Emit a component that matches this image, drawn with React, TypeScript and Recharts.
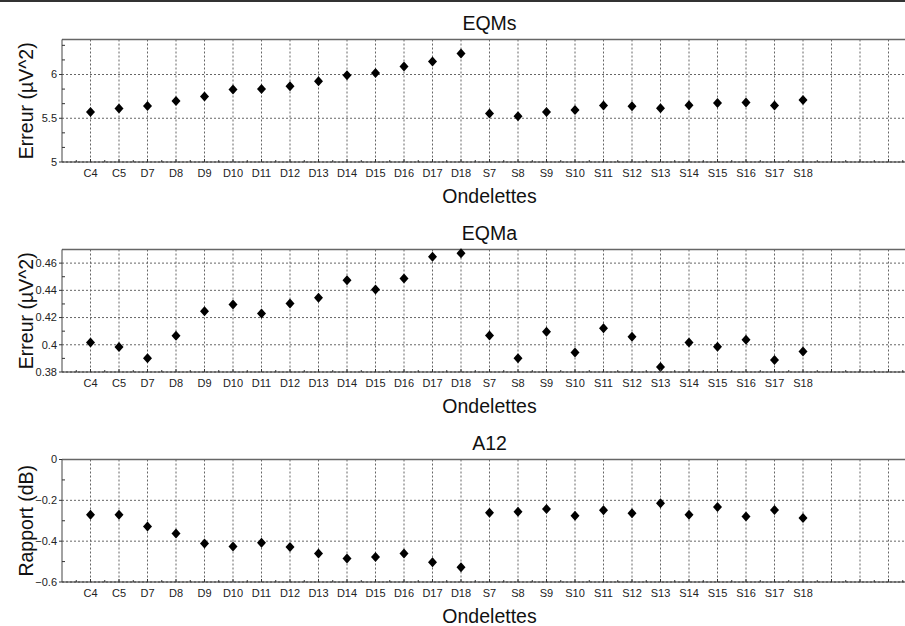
import React from "react";
import { ScatterChart, Scatter, XAxis, YAxis, CartesianGrid, ReferenceLine } from "recharts";

const categories = [
  "C4", "C5", "D7", "D8", "D9", "D10", "D11", "D12", "D13", "D14", "D15", "D16", "D17", "D18",
  "S7", "S8", "S9", "S10", "S11", "S12", "S13", "S14", "S15", "S16", "S17", "S18",
];

const eqms = [
  5.572, 5.611, 5.641, 5.698, 5.748, 5.828, 5.835, 5.866, 5.923, 5.992, 6.018, 6.091, 6.149, 6.24,
  5.554, 5.523, 5.572, 5.595, 5.645, 5.637, 5.614, 5.649, 5.675, 5.68, 5.645, 5.709,
];

const eqma = [
  0.4017, 0.3983, 0.3901, 0.4067, 0.4247, 0.4296, 0.423, 0.4304, 0.4346, 0.4474, 0.4407, 0.4487, 0.4647, 0.4672,
  0.4069, 0.3901, 0.4096, 0.3943, 0.4121, 0.4059, 0.3837, 0.4017, 0.3985, 0.4037, 0.3889, 0.395,
];

const a12 = [
  -0.271, -0.271, -0.328, -0.363, -0.412, -0.426, -0.408, -0.428, -0.461, -0.485, -0.477, -0.461, -0.503, -0.528,
  -0.261, -0.256, -0.242, -0.276, -0.248, -0.263, -0.214, -0.27, -0.233, -0.279, -0.247, -0.286,
];

// tick values
const xMajor = Array.from({ length: 30 }, (_, i) => i + 1);
const xTicks = Array.from({ length: 60 }, (_, i) => (i + 1) / 2);

const eqmsMajor = [5, 5.5, 6];
const eqmsMinor = [5.1667, 5.3333, 5.6667, 5.8333, 6.1667, 6.3333];
const eqmaMajor = [0.38, 0.4, 0.42, 0.44, 0.46];
const eqmaMinor = [0.39, 0.41, 0.43, 0.45];
const a12Major = [-0.6, -0.4, -0.2, 0];
const a12Minor = [-0.5, -0.3, -0.1];

const FONT = "'Liberation Sans', Arial, Helvetica, sans-serif";
const BIG = 19.5;

const toPoints = (vals: number[]) => vals.map((y, i) => ({ x: i + 1, y }));

const Diamond = (props: any) => {
  const { cx, cy } = props;
  if (cx == null || cy == null) return null;
  return (
    <polygon
      points={`${cx},${cy - 5} ${cx + 4.5},${cy} ${cx},${cy + 5} ${cx - 4.5},${cy}`}
      fill="#000"
    />
  );
};

const fmtNum = (v: number) => (v < 0 ? "\u2212" + String(-v) : String(v));

const XTick = (props: any) => {
  const { x, y, payload } = props;
  const v = payload.value;
  const major = Number.isInteger(v);
  const label = major ? categories[v - 1] ?? "" : "";
  return (
    <g>
      <line x1={x} x2={x} y1={y} y2={y - (major ? 3 : 2)} stroke="#333" />
      {label && (
        <text x={x} y={y + 15} textAnchor="middle" fontSize={11} fill="#222">
          {label}
        </text>
      )}
    </g>
  );
};

const makeYTick = (majors: number[]) => (props: any) => {
  const { x, y, payload } = props;
  const v = payload.value;
  const major = majors.some((m) => Math.abs(m - v) < 1e-6);
  if (!major) return <line x1={x} x2={x + 3} y1={y} y2={y} stroke="#333" />;
  return (
    <g>
      <line x1={x} x2={x - 3} y1={y} y2={y} stroke="#333" />
      <text x={x - 5} y={y} dy="0.35em" textAnchor="end" fontSize={11} fill="#222">
        {fmtNum(v)}
      </text>
    </g>
  );
};

const YLabel = (props: any) => {
  const { viewBox, value } = props;
  if (!viewBox) return null;
  const x = viewBox.x + 26;
  const y = viewBox.y + viewBox.height / 2;
  return (
    <text
      x={x}
      y={y}
      transform={`rotate(-90 ${x} ${y})`}
      textAnchor="middle"
      dominantBaseline="central"
      fontSize={BIG}
      fill="#111"
    >
      {value}
    </text>
  );
};

interface PanelProps {
  top: number;
  title: string;
  yLabel: string;
  values: number[];
  domain: [number, number];
  majors: number[];
  minors: number[];
}

function Panel({ top, title, yLabel, values, domain, majors, minors }: PanelProps) {
  const yTicks = [...majors, ...minors].sort((a, b) => a - b);
  return (
    <div style={{ position: "absolute", left: 0, top }}>
      <ScatterChart width={930} height={210} margin={{ top: 39.5, right: 13, bottom: 4, left: 0 }}>
        <CartesianGrid
          xAxisId="m"
          yAxisId="m"
          stroke="#666"
          strokeDasharray="2 2"
          verticalValues={xMajor}
          horizontalValues={majors}
        />
        <XAxis
          xAxisId="m"
          dataKey="x"
          type="number"
          domain={[0, 30]}
          ticks={xTicks}
          interval={0}
          height={44}
          tickSize={0}
          tickMargin={0}
          tickLine={false}
          tick={XTick}
          axisLine={{ stroke: "#222" }}
          label={{ value: "Ondelettes", position: "insideBottom", offset: 3, fontSize: BIG, fill: "#111" }}
        />
        <YAxis
          yAxisId="m"
          dataKey="y"
          type="number"
          domain={domain}
          ticks={yTicks}
          interval={0}
          width={62}
          tickSize={0}
          tickMargin={0}
          tickLine={false}
          tick={makeYTick(majors)}
          axisLine={{ stroke: "#444" }}
          label={<YLabel value={yLabel} />}
        />
        <ReferenceLine
          xAxisId="m"
          yAxisId="m"
          y={domain[1]}
          stroke="#666"
          strokeWidth={1.5}
          label={{ value: title, position: "top", offset: 10, fontSize: BIG, fill: "#111" }}
        />
        <Scatter
          xAxisId="m"
          yAxisId="m"
          data={toPoints(values)}
          fill="#000"
          shape={Diamond}
          isAnimationActive={false}
        />
      </ScatterChart>
    </div>
  );
}

export default function App() {
  return (
    <div
      style={{
        position: "absolute",
        left: 0,
        top: 0,
        width: 905,
        height: 626,
        overflow: "hidden",
        background: "#fff",
        fontFamily: FONT,
      }}
    >
      <Panel top={0} title="EQMs" yLabel="Erreur (µV^2)" values={eqms} domain={[5, 6.4]} majors={eqmsMajor} minors={eqmsMinor} />
      <Panel top={210} title="EQMa" yLabel="Erreur (µV^2)" values={eqma} domain={[0.38, 0.47]} majors={eqmaMajor} minors={eqmaMinor} />
      <Panel top={420} title="A12" yLabel="Rapport (dB)" values={a12} domain={[-0.6, 0]} majors={a12Major} minors={a12Minor} />
      <div style={{ position: "absolute", left: 0, top: 0, width: 905, height: 2, background: "#333" }} />
    </div>
  );
}
